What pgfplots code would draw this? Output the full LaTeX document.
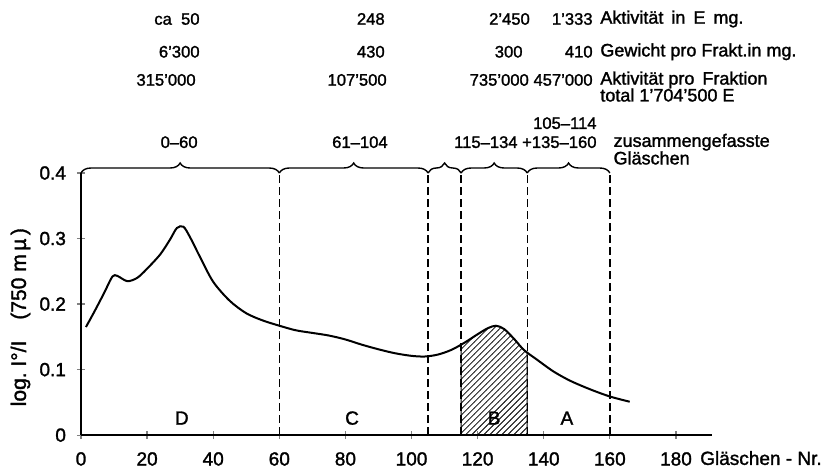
\documentclass[border=0pt]{standalone}
\usepackage{fontspec}
\setmainfont[FakeBold=1.5]{Liberation Sans}
\usepackage{pgfplots}
\pgfplotsset{compat=1.18}
\usepgfplotslibrary{fillbetween}
\usetikzlibrary{patterns,decorations.pathreplacing}

\newcommand{\toptext}{\fontsize{9}{10.5}\selectfont}
\newcommand{\numtext}{\fontsize{8.3}{10}\selectfont}
\newcommand{\axtext}{\fontsize{9.5}{11}\selectfont}

\begin{document}
\begin{tikzpicture}
\begin{axis}[
  scale only axis, width=315.5pt, height=131pt,
  xmin=0, xmax=191, ymin=0, ymax=0.4,
  axis lines=left, axis line style={-, line width=0.7pt},
  clip=false,
  xtick={0,20,...,180},
  ytick={0,0.1,0.2,0.3,0.4},
  yticklabels={0,0.1,0.2,0.3,0.4},
  tick align=center, major tick length=4pt,
  tick style={line width=0.6pt},
  /pgf/number format/assume math mode=true,
  ticklabel style={font=\axtext},
  xticklabel style={yshift=-3pt},
  yticklabel style={xshift=-2pt}]

% absorption curve
\addplot[name path=curve, smooth, line width=1pt] coordinates {
  (1.5,0.165) (4,0.188) (7,0.217) (9.5,0.242) (11,0.243) (14,0.235)
  (17,0.240) (20,0.254) (24,0.276) (27,0.299) (29,0.316) (31,0.318)
  (33,0.302) (36,0.272) (40,0.234) (45,0.205) (50,0.186) (55,0.175)
  (60,0.167) (65,0.160) (70,0.156) (75,0.152) (80,0.146) (85,0.138)
  (90,0.131) (95,0.125) (100,0.121) (104,0.120) (108,0.123) (112,0.130)
  (116,0.141) (120,0.154) (123,0.163) (125.5,0.167) (128,0.162)
  (131,0.147) (134,0.130) (138,0.115) (143,0.097) (148,0.083)
  (154,0.070) (160,0.059) (166,0.051)};
\addplot[draw=none, name path=zero] coordinates {(0,0) (191,0)};
\addplot[pattern=north east lines, draw=black, line width=0.5pt]
  fill between[of=curve and zero, soft clip={domain=115:135}];

% fraction boundaries
\addplot[dashed, dash pattern=on 4pt off 2pt, line width=0.7pt] coordinates {(60,0) (60,0.4)};
\addplot[dashed, dash pattern=on 4pt off 2pt, line width=0.7pt] coordinates {(105,0) (105,0.4)};
\addplot[dashed, dash pattern=on 4pt off 2pt, line width=0.7pt] coordinates {(115,0) (115,0.4)};
\addplot[dashed, dash pattern=on 4pt off 2pt, line width=0.7pt] coordinates {(135,0) (135,0.4)};
\addplot[dashed, dash pattern=on 4pt off 2pt, line width=0.7pt] coordinates {(160,0) (160,0.4)};

% braces
\draw[decorate, decoration={brace, amplitude=5pt}, line width=0.7pt]
  (axis cs:0,0.4) -- (axis cs:60,0.4);
\draw[decorate, decoration={brace, amplitude=5pt}, line width=0.7pt]
  (axis cs:60,0.4) -- (axis cs:105,0.4);
\draw[decorate, decoration={brace, amplitude=5pt}, line width=0.7pt]
  (axis cs:105,0.4) -- (axis cs:115,0.4);
\draw[decorate, decoration={brace, amplitude=5pt}, line width=0.7pt]
  (axis cs:115,0.4) -- (axis cs:135,0.4);
\draw[decorate, decoration={brace, amplitude=5pt}, line width=0.7pt]
  (axis cs:135,0.4) -- (axis cs:160,0.4);

% fraction letters
\node[font=\axtext] at (axis cs:30.5,0.026) {D};
\node[font=\axtext] at (axis cs:82,0.026) {C};
\node[font=\axtext] at (axis cs:125,0.026) {B};
\node[font=\axtext] at (axis cs:147,0.026) {A};

% axis labels
\node[font=\fontsize{10.5}{12}\selectfont, rotate=90] at (axis cs:-18.3,0.18)
  {log.\ I°/I\quad(750\ m\,µ\,)};
\node[font=\axtext, anchor=west] at (axis cs:185.2,-0.035) {Gläschen - Nr.};

% table above the plot
\begin{scope}[every node/.style={font=\numtext, inner sep=0pt}]
\node[anchor=east] at (axis cs:36.0,0.635) {ca\ \ 50};
\node[anchor=east] at (axis cs:92.0,0.635) {248};
\node[anchor=east] at (axis cs:135.9,0.635) {2'450};
\node[anchor=east] at (axis cs:154.9,0.635) {1'333};

\node[anchor=east] at (axis cs:36.0,0.585) {6'300};
\node[anchor=east] at (axis cs:92.0,0.585) {430};
\node[anchor=east] at (axis cs:133.7,0.585) {300};
\node[anchor=east] at (axis cs:154.9,0.585) {410};

\node[anchor=east] at (axis cs:34.8,0.542) {315'000};
\node[anchor=east] at (axis cs:92.6,0.542) {107'500};
\node[anchor=east] at (axis cs:135.6,0.542) {735'000};
\node[anchor=east] at (axis cs:154.9,0.542) {457'000};

\node[anchor=east] at (axis cs:35.4,0.447) {0--60};
\node[anchor=east] at (axis cs:92.9,0.447) {61--104};
\node[anchor=east] at (axis cs:156.1,0.476) {105--114};
\node[anchor=east] at (axis cs:156.1,0.447) {115--134 +135--160};
\end{scope}

\begin{scope}[every node/.style={font=\toptext, inner sep=0pt, anchor=west}]
\node at (axis cs:157.0,0.635) {Aktivität\, in\, E\, mg.};
\node at (axis cs:157.0,0.585) {Gewicht pro Frakt.in mg.};
\node at (axis cs:157.0,0.542) {Aktivität pro\, Fraktion};
\node at (axis cs:157.0,0.519) {total 1'704'500 E};
\node at (axis cs:161.0,0.447) {zusammengefasste};
\node at (axis cs:161.0,0.423) {Gläschen};
\end{scope}

\coordinate (bl) at (axis cs:-24.5,-0.0504);
\coordinate (tr) at (axis cs:226.6,0.664);
\end{axis}
\pgfresetboundingbox
\useasboundingbox (bl) rectangle (tr);
\end{tikzpicture}
\end{document}
